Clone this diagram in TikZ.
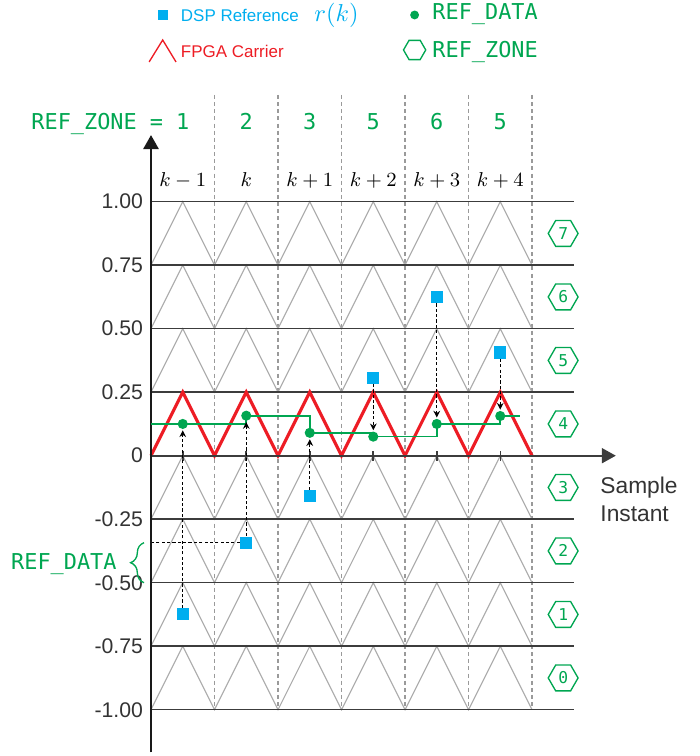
\documentclass[tikz,border=0pt]{standalone}
\usepackage{fontspec}
\setmainfont{Liberation Sans}
\setmonofont{DejaVu Sans Mono}
\usetikzlibrary{arrows.meta,positioning,shapes.geometric,decorations.pathreplacing}
\definecolor{gridln}{HTML}{3C3C3C}
\definecolor{tri}{HTML}{ABABAB}
\definecolor{sepln}{HTML}{9A9A9A}
\definecolor{carrier}{HTML}{ED1C24}
\definecolor{dsp}{HTML}{00AEEF}
\definecolor{refgreen}{HTML}{00A651}
\definecolor{ink}{HTML}{333333}

\begin{document}
\begin{tikzpicture}[x=1cm,y=1cm,node distance=2mm]
  \tikzstyle{rk}=[rectangle,fill=dsp,inner sep=0pt,minimum size=1.9mm]
  \tikzstyle{rd}=[circle,fill=refgreen,inner sep=0pt,minimum size=1.6mm]
  \tikzstyle{hx}=[regular polygon,regular polygon sides=6,draw=refgreen,line width=0.6pt,inner sep=0pt,minimum size=4.7mm,text=refgreen,font=\fontsize{7.3pt}{8pt}\selectfont\ttfamily]
  \tikzstyle{mono}=[inner sep=0pt,text=refgreen,font=\fontsize{9.8pt}{11pt}\selectfont\ttfamily]
  \tikzstyle{lg}=[inner sep=0pt,font=\fontsize{7.6pt}{9pt}\selectfont]
  \tikzstyle{tick}=[inner sep=0pt,text=ink,font=\fontsize{9.5pt}{11pt}\selectfont]
  \tikzstyle{fb}=[black,line width=0.55pt,dash pattern=on 1.4pt off 1pt,-{Stealth[length=3pt,width=3pt]},shorten >=0.4pt]
  \useasboundingbox (-2.378,-4.729) rectangle (8.630,7.176);

  \foreach \i in {1,...,6} \draw[sepln,line width=0.5pt,dash pattern=on 1.8pt off 1.4pt] (\i,5.68) -- (\i,-4);
  \foreach \j in {-4,...,-1,1,2,3} \draw[tri,line width=0.5pt] (0,\j) foreach \i in {0,...,5} {-- (\i+0.5,\j+1) -- (\i+1,\j)};
  \foreach \j in {-4,...,-1,1,2,3,4} \draw[gridln,line width=0.7pt] (0,\j) -- (6.66,\j);
  \draw[carrier,line width=1.4pt] (0,0) foreach \i in {0,...,5} {-- (\i+0.5,1) -- (\i+1,0)};

  \coordinate (xo) at (0,0);
  \coordinate (xt) at (7.32,0);
  \coordinate (yb) at (0,-4.67);
  \coordinate (yt) at (0,5.05);
  \draw[gridln,line width=0.9pt,-{Triangle[length=6.3pt,width=6.7pt]}] (xo) -- (xt);
  \draw[black!90,line width=1.3pt,-{Triangle[length=6.3pt,width=6.7pt]}] (yb) -- (yt);
  \foreach \i in {1,...,6} \draw[gridln,line width=0.7pt] (\i-0.5,-0.08) -- (\i-0.5,0.08);

  \foreach \j/\t in {4/1.00,3/0.75,2/0.50,1/0.25,0/0,-1/-0.25,-2/-0.50,-3/-0.75,-4/-1.00}
    \node[tick,anchor=east] (yl\j) at (-0.12,\j) {\t};
  \node[tick,anchor=north west,align=left,font=\fontsize{10.2pt}{12.5pt}\selectfont] (xlab) at (7.07,-0.33) {Sample\\Instant};

  \foreach \i/\t in {1/k-1,2/k,3/k+1,4/k+2,5/k+3,6/k+4}
    \node[inner sep=0pt,anchor=base,font=\fontsize{9.3pt}{11pt}\selectfont] (kl\i) at (\i-0.5,4.236) {$\t$};
  \node[mono,anchor=base west] (zlab) at (-1.89,5.142) {REF\_ZONE =};
  \foreach \i/\z in {1/1,2/2,3/3,4/5,5/6,6/5}
    \node[mono,anchor=base] (zn\i) at (\i-0.5,5.142) {\z};
  \foreach \z in {0,...,7}
    \node[hx] (hx\z) at (6.49,\z-3.5) {\z};

  \foreach \i/\r/\d in {1/-2.5/0.5,2/-1.37/0.63,3/-0.64/0.36,4/1.23/0.3,5/2.5/0.5,6/1.625/0.625} {
    \node[rk] (sq\i) at (\i-0.5,\r) {};
    \coordinate (dt\i) at (\i-0.5,\d);
  }
  \coordinate (st0) at (0,0.5);
  \coordinate (st7) at (5.81,0.625);
  \coordinate (ax2) at (0,-1.37);
  \draw[refgreen,line width=0.75pt] (st0) -- (dt1) -| (dt2) -| (dt3) -| (dt4) -| (dt5) -| (dt6) -- (st7);
  \foreach \i in {1,...,6} \node[rd] (dt\i) at (dt\i) {};
  \foreach \i in {1,...,6} \draw[fb] (sq\i) -- (dt\i);
  \draw[fb,-] (sq2) -- (ax2);

  \draw[refgreen,line width=0.6pt,decorate,decoration={brace,amplitude=6pt}] (-0.11,-2) -- (-0.11,-1.37);
  \node[mono,anchor=base east] (rdlab) at (-0.535,-1.80) {REF\_DATA};

  \node[rk,minimum size=1.6mm] (lsq) at (0.184,6.94) {};
  \node[lg,anchor=base west,text=dsp] (ldsp) at (0.465,6.835) {DSP Reference};
  \node[inner sep=0pt,base right=2.3mm of ldsp,text=dsp,font=\fontsize{11.2pt}{13pt}\selectfont] (lrk) {$r(k)$};
  \draw[carrier,line width=0.6pt] (-0.03,6.2) -- (0.184,6.546) -- (0.394,6.2);
  \node[lg,anchor=base west,text=carrier] (lfp) at (0.465,6.263) {FPGA Carrier};
  \node[rd,minimum size=1.4mm] (ldt) at (4.151,6.94) {};
  \node[mono,anchor=base west] (lrd) at (4.425,6.861) {REF\_DATA};
  \node[hx,minimum size=3.5mm] (lhx) at (4.151,6.389) {};
  \node[mono,anchor=base west] (lrz) at (4.425,6.263) {REF\_ZONE};
\end{tikzpicture}
\end{document}
